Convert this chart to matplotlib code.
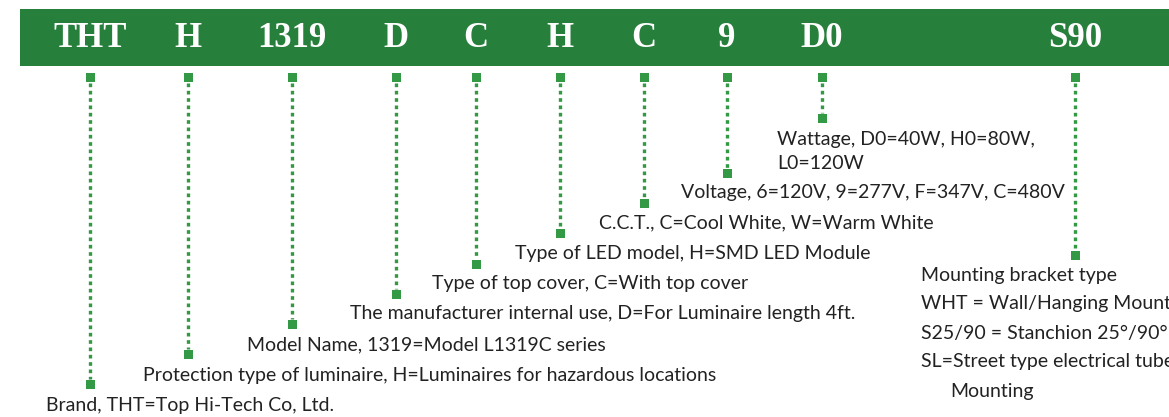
import matplotlib
matplotlib.use("Agg")
import matplotlib.pyplot as plt
from matplotlib.patches import Rectangle

# ---- content ----
codes = ["THT", "H", "1319", "D", "C", "H", "C", "9", "D0", "S90"]
descriptions = [
    ["Brand, THT=Top Hi-Tech Co, Ltd."],
    ["Protection type of luminaire, H=Luminaires for hazardous locations"],
    ["Model Name, 1319=Model L1319C series"],
    ["The manufacturer internal use, D=For Luminaire length 4ft."],
    ["Type of top cover, C=With top cover"],
    ["Type of LED model, H=SMD LED Module"],
    ["C.C.T., C=Cool White, W=Warm White"],
    ["Voltage, 6=120V, 9=277V, F=347V, C=480V"],
    ["Wattage, D0=40W, H0=80W,", "L0=120W"],
    ["Mounting bracket type", "WHT = Wall/Hanging Mount", "S25/90 = Stanchion 25°/90°",
     "SL=Street type electrical tube", "Mounting"],
]

# ---- layout (pixels) ----
W, H = 1169, 417
code_x = [90, 188, 292, 396, 476, 560, 644, 727, 822, 1075]
marker_end_y = [384, 354, 324, 294, 264, 233, 203, 173, 118, 255]
text_x = [46, 143, 247, 350, 432, 515, 599, 681, 777, 921]
text_y = [405, 375, 345, 314, 284, 253, 223, 192, 140, 275]
line_gap = [0, 0, 0, 0, 0, 0, 0, 0, 23, 29]
indent = {(9, 4): 29}

banner_color = "#267f3a"
mark_color = "#339944"
text_color = "#222222"

fig = plt.figure(figsize=(W / 100, H / 100), dpi=100)
ax = fig.add_axes([0, 0, 1, 1])
ax.set_xlim(0, W)
ax.set_ylim(H, 0)
ax.axis("off")

ax.add_patch(Rectangle((20, 9), W, 56.5, color=banner_color, lw=0))

for c, x in zip(codes, code_x):
    ax.text(x, 38, c, ha="center", va="center", color="white",
            fontsize=25, fontweight="bold", family="Liberation Serif")

top_y = 77.5
sq = 9
for x, yb in zip(code_x, marker_end_y):
    ax.plot([x, x], [top_y + 5, yb - 5], color=mark_color, lw=2.4,
            linestyle=(0, (1.1, 1.1)), solid_capstyle="butt", dash_capstyle="butt")
    for yy in (top_y, yb):
        ax.add_patch(Rectangle((x - sq / 2, yy - sq / 2), sq, sq, color=mark_color, lw=0))

for k, (lines, tx, ty, gap) in enumerate(zip(descriptions, text_x, text_y, line_gap)):
    for i, ln in enumerate(lines):
        ax.text(tx + indent.get((k, i), 0), ty + i * gap, ln, ha="left", va="center",
                color=text_color, fontsize=14, family="Lato")

fig.savefig("out.png", dpi=100)
